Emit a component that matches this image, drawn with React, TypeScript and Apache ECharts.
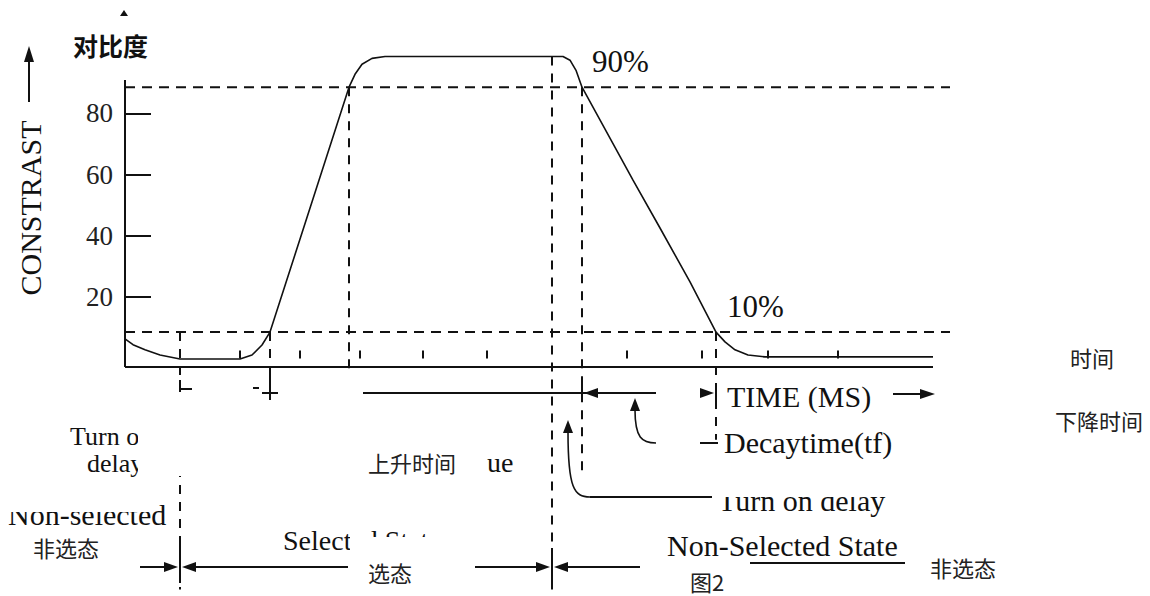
import React, { useEffect, useRef } from "react";
import * as echarts from "echarts";

// ---- data ----
const timeMs = [0, 0.8, 2.0, 3.5, 5.5, 11.5, 12.7, 13.7, 14.5, 22.4, 23.0, 23.7, 24.7, 26.0, 43.8, 44.5, 45.1, 45.7, 50.8, 53.5, 56.5, 59.1, 60.0, 61.0, 62.3, 64.0, 80.8];
const contrast = [6.4, 4.5, 2.8, 1.1, -0.2, -0.2, 1.1, 4.4, 8.6, 88.6, 92.8, 96.1, 98.0, 98.6, 98.6, 97.4, 94.1, 88.6, 58.2, 42.6, 25.0, 8.6, 5.4, 2.8, 1.1, 0.5, 0.5];

const yTicks = [20, 40, 60, 80];
const xTicks = [11.5, 17.5, 23.5, 29.8, 36.2, 50.2, 57.7, 64.3, 71.3];

const levelValues = [88.6, 8.6];
const levelLabels = ["90%", "10%"];
const levelEnd = 82.5;

const markerTimes = [5.5, 14.5, 22.4, 42.7, 45.7, 59.1];
const markerTop = [8.6, 8.6, 88.6, 98.6, 88.6, 8.6];
const markerBottom = [-75.5, -15.2, -4.4, -75.5, -36.8, -26.6];

const yMin = -2.8;
const yMax = 104;
const yAxisTop = 90.9;
const xAxisEnd = 80.8;

const serif = "Liberation Serif";
const cjk = "Noto Sans CJK SC";
const ink = "#111";

const txt = (x: number, y: number, text: string, size: number, family = serif, extra: any = {}, z = 60) => ({
  type: "text",
  x,
  y,
  z,
  style: { text, fontSize: size, fontFamily: family, fill: ink, align: "left", verticalAlign: "middle", ...extra },
});
const seg = (x1: number, y1: number, x2: number, y2: number, w = 2) => ({
  type: "line",
  z: 55,
  shape: { x1, y1, x2, y2 },
  style: { stroke: ink, lineWidth: w },
});
const tri = (pts: number[][]) => ({ type: "polygon", z: 55, shape: { points: pts }, style: { fill: ink } });
const white = (x: number, y: number, width: number, height: number) => ({
  type: "rect",
  z: 70,
  shape: { x, y, width, height },
  style: { fill: "#fff" },
});
const curve = (x1: number, y1: number, cpx1: number, cpy1: number, cpx2: number, cpy2: number, x2: number, y2: number) => ({
  type: "bezierCurve",
  z: 55,
  shape: { x1, y1, cpx1, cpy1, cpx2, cpy2, x2, y2 },
  style: { stroke: ink, lineWidth: 1.6, fill: "none" },
});
const boxText = (x: number, y: number, text: string) => txt(x, y, text, 22, cjk, { fill: "#222" }, 80);

export default function App() {
  const ref = useRef<HTMLDivElement>(null);
  useEffect(() => {
    if (!ref.current) return;
    const chart = echarts.init(ref.current, null, { renderer: "svg" });

    const series: any[] = [];
    series.push({
      type: "line",
      name: "contrast",
      data: timeMs.map((t, i) => [t, contrast[i]]),
      showSymbol: false,
      silent: true,
      lineStyle: { color: ink, width: 1.6 },
      z: 5,
    });
    series.push({
      type: "line",
      data: [[0, yMin], [0, yAxisTop]],
      showSymbol: false,
      silent: true,
      clip: false,
      lineStyle: { color: ink, width: 2 },
    });
    series.push({
      type: "line",
      data: [[0, yMin], [xAxisEnd, yMin]],
      showSymbol: false,
      silent: true,
      clip: false,
      lineStyle: { color: ink, width: 2 },
    });
    levelValues.forEach((v) => {
      series.push({
        type: "line",
        data: [[0, v], [levelEnd, v]],
        showSymbol: false,
        silent: true,
        clip: false,
        lineStyle: { color: ink, width: 2, type: [10, 7] },
      });
    });
    markerTimes.forEach((t, i) => {
      series.push({
        type: "line",
        data: [[t, markerTop[i]], [t, markerBottom[i]]],
        showSymbol: false,
        silent: true,
        clip: false,
        lineStyle: { color: ink, width: 2, type: [9, 8] },
      });
    });

    const graphic: any[] = [
      // y-axis title and arrow
      {
        type: "text",
        x: 30,
        y: 208,
        rotation: Math.PI / 2,
        z: 60,
        style: { text: "CONSTRAST", fontSize: 30, fontFamily: serif, fill: ink, align: "center", verticalAlign: "middle" },
      },
      seg(29, 102, 29, 58),
      tri([[29, 46], [24, 62], [34, 62]]),
      tri([[124, 10], [120, 16], [128, 16]]),
      txt(73, 45, "对比度", 25, cjk, { fontWeight: "bold" }),
      txt(592, 61, levelLabels[0], 31),
      txt(727, 306, levelLabels[1], 31),

      // small marks below axis on the left
      seg(180, 380, 180, 392, 2),
      seg(180, 389, 192, 389, 2),
      seg(270, 367, 270, 406, 2),
      seg(262, 393, 278, 393, 2),
      seg(253, 388, 259, 388, 2),

      // decay time dimension line
      seg(363, 393, 656, 393),
      seg(582, 384, 582, 401),
      tri([[584, 393], [598, 388], [598, 398]]),
      tri([[714, 393], [700, 388], [700, 398]]),
      seg(716, 384, 716, 401),
      txt(727, 396, "TIME (MS)", 30),
      seg(893, 394, 922, 394),
      tri([[935, 394], [920, 389], [920, 399]]),
      seg(700, 443, 718, 443),
      txt(724, 442, "Decaytime(tf)", 30),

      // curved arrows
      tri([[635, 398], [630, 411], [640, 411]]),
      curve(635, 410, 635, 438, 642, 443, 656, 443),
      tri([[568, 420], [563, 433], [573, 433]]),
      curve(568, 432, 568, 488, 574, 497, 590, 497),
      seg(590, 497, 712, 497, 1.8),
      txt(718, 500, "Turn on delay", 30),
      white(714, 476, 200, 21),

      // left notes
      txt(70, 436, "Turn on", 26),
      txt(87, 463, "delay", 26),
      white(138, 400, 207, 76),
      txt(8, 514, "Non-selected", 30),
      white(0, 490, 150, 22),
      white(25, 529, 112, 34),
      boxText(33, 547, "非选态"),

      txt(368, 462, "上升时间", 22, cjk, { fill: "#222" }),
      txt(487, 462, "ue", 28),

      // bottom state arrows
      txt(283, 540, "Selected State", 28),
      white(350, 537, 122, 54),
      boxText(368, 572, "选态"),
      seg(140, 567, 166, 567),
      tri([[178, 567], [164, 562], [164, 572]]),
      seg(180, 545, 180, 583),
      tri([[182, 567], [196, 562], [196, 572]]),
      seg(194, 567, 348, 567),
      seg(475, 567, 540, 567),
      tri([[550, 567], [536, 562], [536, 572]]),
      seg(552, 548, 552, 586),
      tri([[554, 567], [568, 562], [568, 572]]),
      seg(566, 567, 640, 567),

      txt(667, 545, "Non-Selected State", 30),
      seg(750, 563, 905, 563),
      txt(930, 567, "非选态", 22, cjk, { fill: "#222" }),
      txt(690, 581, "图2", 22, cjk, { fill: "#222" }),

      txt(1070, 357, "时间", 22, cjk, { fill: "#222" }),
      txt(1055, 420, "下降时间", 22, cjk, { fill: "#222" }),
    ];

    chart.setOption({
      animation: false,
      backgroundColor: "#fff",
      textStyle: { fontFamily: serif },
      grid: { left: 125, right: 200, top: 40, bottom: 229, containLabel: false },
      xAxis: {
        type: "value",
        min: 0,
        max: levelEnd,
        axisLine: { show: false },
        splitLine: { show: false },
        axisLabel: { show: false },
        axisTick: { show: true, inside: true, length: 8, customValues: xTicks, lineStyle: { color: ink, width: 2 } },
      },
      yAxis: {
        type: "value",
        min: yMin,
        max: yMax,
        axisLine: { show: false },
        splitLine: { show: false },
        axisTick: { show: true, inside: true, length: 26, customValues: yTicks, lineStyle: { color: ink, width: 2 } },
        axisLabel: { show: true, customValues: yTicks, fontSize: 27, fontFamily: serif, color: "#222", margin: 12 },
      },
      series,
      graphic,
    });
    return () => chart.dispose();
  }, []);
  return <div ref={ref} style={{ position: "absolute", left: 0, top: 0, width: 1150, height: 596 }} />;
}
